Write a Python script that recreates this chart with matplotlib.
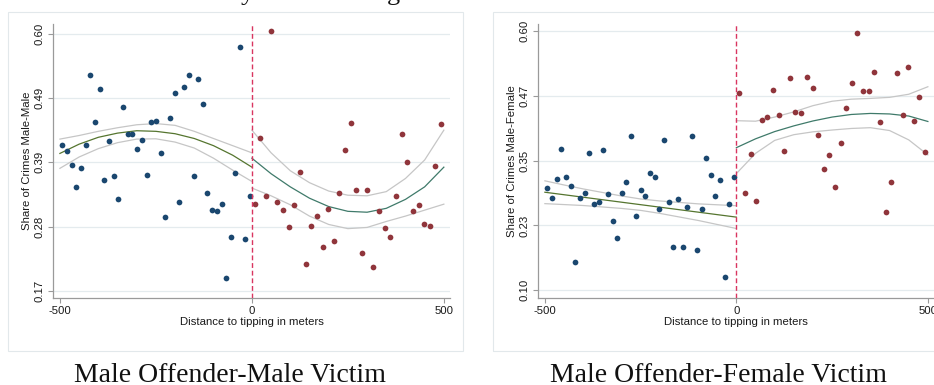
import matplotlib
matplotlib.use('Agg')
from matplotlib import pyplot as plt
from matplotlib.patches import Rectangle

# bin midpoints (meters from the tipping point)
bins_left = [-494, -482, -469, -457, -445, -433, -421, -409, -396, -384, -372,
             -360, -348, -335, -323, -311, -299, -287, -274, -262, -250, -238,
             -226, -213, -201, -189, -177, -165, -152, -140, -128, -116, -104,
             -91, -79, -67, -55, -43, -30, -18, -6]
bins_right = [7, 22, 37, 51, 66, 81, 96, 110, 125, 140, 154, 169, 184, 199,
              213, 228, 243, 257, 272, 287, 301, 316, 331, 346, 360, 375, 390,
              404, 419, 434, 449, 463, 478, 493]

# share of crimes male offender - male victim
mm_left = [0.414, 0.404, 0.381, 0.343, 0.376, 0.414, 0.531, 0.453, 0.508, 0.355,
           0.420, 0.362, 0.323, 0.478, 0.433, 0.432, 0.408, 0.423, 0.364, 0.453,
           0.455, 0.401, 0.293, 0.459, 0.501, 0.319, 0.512, 0.531, 0.363, 0.524,
           0.482, 0.334, 0.305, 0.303, 0.315, 0.192, 0.260, 0.368, 0.578, 0.257,
           0.329]
mm_right = [0.315, 0.426, 0.329, 0.605, 0.318, 0.305, 0.277, 0.313, 0.369, 0.215,
            0.279, 0.295, 0.244, 0.307, 0.254, 0.334, 0.406, 0.451, 0.338, 0.233,
            0.339, 0.210, 0.304, 0.275, 0.260, 0.329, 0.433, 0.385, 0.304, 0.313,
            0.282, 0.278, 0.379, 0.449]

# share of crimes male offender - female victim
mf_left = [0.297, 0.277, 0.314, 0.372, 0.318, 0.301, 0.154, 0.277, 0.288, 0.365,
           0.267, 0.271, 0.371, 0.286, 0.233, 0.200, 0.288, 0.309, 0.397, 0.244,
           0.293, 0.282, 0.327, 0.319, 0.256, 0.390, 0.270, 0.183, 0.275, 0.184,
           0.261, 0.397, 0.177, 0.256, 0.356, 0.322, 0.281, 0.312, 0.125, 0.266,
           0.319]
mf_right = [0.481, 0.287, 0.362, 0.272, 0.428, 0.435, 0.486, 0.438, 0.369, 0.510,
            0.443, 0.442, 0.512, 0.491, 0.400, 0.333, 0.360, 0.300, 0.384, 0.452,
            0.500, 0.597, 0.485, 0.484, 0.520, 0.425, 0.250, 0.308, 0.519, 0.438,
            0.531, 0.426, 0.473, 0.367]

# fitted curves with 95% bands, sampled every 50 m on each side
fit_x_left = [-500, -450, -400, -350, -300, -250, -200, -150, -100, -50, 0]
fit_x_right = [0, 50, 100, 150, 200, 250, 300, 350, 400, 450, 500]

mm_fit_left = [0.400, 0.4155, 0.427, 0.434, 0.438, 0.437, 0.433, 0.425, 0.413, 0.397, 0.377]
mm_hi_left = [0.424, 0.430, 0.437, 0.443, 0.448, 0.450, 0.447, 0.437, 0.425, 0.413, 0.401]
mm_lo_left = [0.375, 0.394, 0.408, 0.418, 0.424, 0.4245, 0.419, 0.409, 0.392, 0.372, 0.353]
mm_fit_right = [0.392, 0.366, 0.344, 0.325, 0.311, 0.303, 0.3015, 0.308, 0.323, 0.344, 0.377]
mm_hi_right = [0.439, 0.401, 0.371, 0.351, 0.337, 0.330, 0.329, 0.336, 0.358, 0.389, 0.439]
mm_lo_right = [0.342, 0.329, 0.314, 0.295, 0.281, 0.274, 0.276, 0.286, 0.295, 0.305, 0.315]

mf_fit_left = [0.289, 0.2842, 0.2794, 0.2746, 0.2698, 0.265, 0.2602, 0.2554, 0.2506, 0.2458, 0.241]
mf_hi_left = [0.311, 0.303, 0.2954, 0.2886, 0.2818, 0.276, 0.2722, 0.2694, 0.2666, 0.2648, 0.263]
mf_lo_left = [0.267, 0.2652, 0.2634, 0.2606, 0.2578, 0.254, 0.2482, 0.2414, 0.2346, 0.2268, 0.219]
mf_fit_right = [0.375, 0.392, 0.406, 0.417, 0.4265, 0.434, 0.439, 0.441, 0.440, 0.436, 0.4255]
mf_hi_right = [0.427, 0.426, 0.434, 0.444, 0.456, 0.4645, 0.4685, 0.470, 0.472, 0.478, 0.4925]
mf_lo_right = [0.325, 0.364, 0.389, 0.400, 0.4055, 0.409, 0.412, 0.4135, 0.408, 0.390, 0.361]

mm_yticks = [0.17, 0.2775, 0.385, 0.4925, 0.60]
mm_ylabels = ['0.17', '0.28', '0.39', '0.49', '0.60']
mf_yticks = [0.10, 0.225, 0.35, 0.475, 0.60]
mf_ylabels = ['0.10', '0.23', '0.35', '0.47', '0.60']

NAVY = '#1a476f'
MAROON = '#90353b'
GREEN = '#55752f'
TEAL = '#3f7a6a'
BAND = '#c6c6c6'
CUTOFF = '#d93560'

plt.rcParams['font.family'] = ['Liberation Sans', 'DejaVu Sans']

fig = plt.figure(figsize=(9.34, 3.85), dpi=100)

# light frames around each graph
for x0, w in [(8 / 934, 455 / 934), (493 / 934, 460 / 934)]:
    fig.add_artist(Rectangle((x0, 34 / 385), w, 339 / 385, transform=fig.transFigure,
                             fill=False, edgecolor='#e2e8eb', linewidth=0.8))


def draw_panel(ax, yl, yr, fl, hl, ll, fr, hr, lr, ticks, labels, ylim, ylabel):
    ax.set_xlim(-518, 516)
    ax.set_ylim(*ylim)
    for t in ticks:
        ax.axhline(t, color='#e4ebee', linewidth=0.9, zorder=0)
    ax.plot(fit_x_left, hl, color=BAND, linewidth=0.9, zorder=2)
    ax.plot(fit_x_left, ll, color=BAND, linewidth=0.9, zorder=2)
    ax.plot(fit_x_left, fl, color=GREEN, linewidth=0.9, zorder=2)
    ax.plot(fit_x_right, hr, color=BAND, linewidth=0.9, zorder=2)
    ax.plot(fit_x_right, lr, color=BAND, linewidth=0.9, zorder=2)
    ax.plot(fit_x_right, fr, color=TEAL, linewidth=0.9, zorder=2)
    ax.scatter(bins_left, yl, s=17, color=NAVY, linewidths=0, zorder=3)
    ax.scatter(bins_right, yr, s=17, color=MAROON, linewidths=0, zorder=3)
    ax.axvline(0, color=CUTOFF, linewidth=1.0, dashes=(3.5, 2), zorder=4)

    for side in ['top', 'right']:
        ax.spines[side].set_visible(False)
    for side in ['left', 'bottom']:
        ax.spines[side].set_color('#9a9a9a')
        ax.spines[side].set_linewidth(0.9)
    ax.set_yticks(ticks)
    ax.set_yticklabels(labels, rotation=90, va='center')
    ax.set_xticks([-500, 0, 500])
    ax.set_xticklabels(['-500', '0', '500'])
    ax.tick_params(axis='both', labelsize=8.2, length=3.5, width=0.8,
                   color='#9a9a9a', labelcolor='#1a1a1a')
    ax.tick_params(axis='y', pad=2.5)
    ax.tick_params(axis='x', pad=2)
    ax.set_ylabel(ylabel, fontsize=8.2, color='#1a1a1a')
    ax.set_xlabel('Distance to tipping in meters', fontsize=8.2, color='#1a1a1a')
    ax.yaxis.set_label_coords(-0.052, 0.5)
    ax.xaxis.set_label_coords(0.5, -0.071)


ax1 = fig.add_axes([53 / 934, 87 / 385, 397 / 934, 274 / 385])
draw_panel(ax1, mm_left, mm_right, mm_fit_left, mm_hi_left, mm_lo_left,
           mm_fit_right, mm_hi_right, mm_lo_right, mm_yticks, mm_ylabels,
           (0.1578, 0.6168), 'Share of Crimes Male-Male')

ax2 = fig.add_axes([538 / 934, 87 / 385, 396 / 934, 274 / 385])
draw_panel(ax2, mf_left, mf_right, mf_fit_left, mf_hi_left, mf_lo_left,
           mf_fit_right, mf_hi_right, mf_lo_right, mf_yticks, mf_ylabels,
           (0.085, 0.6135), 'Share of Crimes Male-Female')

# captions under each graph
fig.text(230 / 934, 3 / 385, 'Male Offender-Male Victim', family='Liberation Serif',
         fontsize=20, ha='center', va='baseline', color='#111111')
fig.text(719 / 934, 3 / 385, 'Male Offender-Female Victim', family='Liberation Serif',
         fontsize=20, ha='center', va='baseline', color='#111111')

# descenders of the heading line above the figure
fig.text(247 / 934, 1.0, 'y', family='Liberation Serif', fontsize=19,
         ha='center', va='baseline', color='#111111')
fig.text(393 / 934, 1.0, 'g', family='Liberation Serif', fontsize=19,
         ha='center', va='baseline', color='#111111')

fig.savefig('out.png', dpi=100)
